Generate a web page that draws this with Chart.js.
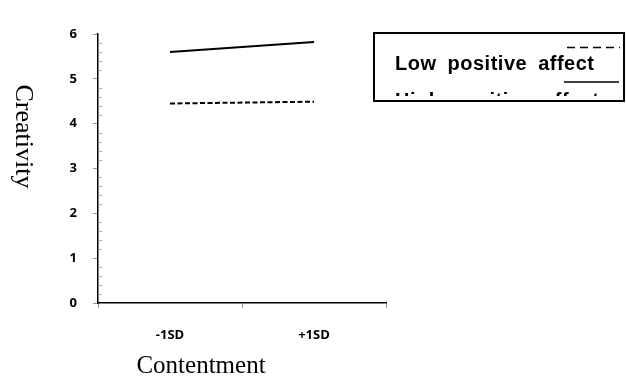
<!DOCTYPE html>
<html>
<head>
<meta charset="utf-8">
<script src="https://cdn.jsdelivr.net/npm/chart.js@4"></script>
<style>
  html, body { margin: 0; padding: 0; background: #fff; }
  #chart { display: block; }
</style>
</head>
<body>
<canvas id="chart" width="626" height="377"></canvas>
<script>
const categories = ["-1SD", "+1SD"];
const lowAffect = [4.45, 4.49];   // dashed
const highAffect = [5.60, 5.82];  // solid
const legendLabels = ["Low positive affect", "High positive affect"];
const xTitle = "Contentment";
const yTitle = "Creativity";

const tickFont = { family: "'Open Sans', 'DejaVu Sans', sans-serif", size: 13, weight: "bold" };

// minor ticks every 0.2 on the inside of the y axis
const minorTicks = {
  id: "minorTicks",
  afterDraw(chart) {
    const ctx = chart.ctx;
    const y = chart.scales.y;
    const left = chart.chartArea.left;
    ctx.save();
    ctx.strokeStyle = "#a8a8a8";
    ctx.lineWidth = 1;
    for (let i = 0; i <= 30; i++) {
      if (i % 5 === 0) continue;
      const py = Math.round(y.getPixelForValue(i / 5)) + 0.5;
      ctx.beginPath();
      ctx.moveTo(left, py);
      ctx.lineTo(left + 4, py);
      ctx.stroke();
    }
    ctx.restore();
  }
};

// axis titles (y title reads top to bottom)
const axisTitles = {
  id: "axisTitles",
  afterDraw(chart) {
    const ctx = chart.ctx;
    ctx.save();
    ctx.fillStyle = "#000";
    ctx.textAlign = "center";
    ctx.textBaseline = "alphabetic";
    ctx.font = "25px 'Liberation Serif', 'DejaVu Serif', serif";
    ctx.fillText(xTitle, 201, 373);
    ctx.font = "26px 'Liberation Serif', 'DejaVu Serif', serif";
    ctx.translate(16, 136.5);
    ctx.rotate(Math.PI / 2);
    ctx.fillText(yTitle, 0, 0);
    ctx.restore();
  }
};

// boxed legend, clipped like the original
const boxLegend = {
  id: "boxLegend",
  afterDraw(chart) {
    const ctx = chart.ctx;
    ctx.save();
    ctx.strokeStyle = "#000";
    ctx.lineWidth = 2;
    ctx.strokeRect(374, 33, 250, 68);
    ctx.beginPath();
    ctx.rect(375, 34, 248, 62);
    ctx.clip();
    ctx.fillStyle = "#000";
    ctx.font = "bold 20px 'Liberation Sans', Arial, sans-serif";
    ctx.letterSpacing = "0.5px";
    ctx.wordSpacing = "5px";
    ctx.textBaseline = "alphabetic";
    ctx.fillText(legendLabels[0], 395, 70);
    ctx.fillText(legendLabels[1], 395, 107);
    ctx.lineWidth = 1.5;
    ctx.setLineDash([8, 5]);
    ctx.beginPath();
    ctx.moveTo(567, 47.5);
    ctx.lineTo(620, 47.5);
    ctx.stroke();
    ctx.setLineDash([]);
    ctx.beginPath();
    ctx.moveTo(564, 82);
    ctx.lineTo(619, 82);
    ctx.stroke();
    ctx.restore();
  }
};

new Chart(document.getElementById("chart"), {
  type: "line",
  data: {
    labels: categories,
    datasets: [
      {
        label: legendLabels[0],
        data: lowAffect,
        borderColor: "#000",
        borderWidth: 2,
        borderDash: [5, 2.5],
        pointRadius: 0,
        tension: 0
      },
      {
        label: legendLabels[1],
        data: highAffect,
        borderColor: "#000",
        borderWidth: 2,
        pointRadius: 0,
        tension: 0
      }
    ]
  },
  options: {
    responsive: false,
    animation: false,
    layout: { padding: { top: 34, right: 240, left: 0, bottom: 0 } },
    plugins: {
      legend: { display: false },
      tooltip: { enabled: false }
    },
    scales: {
      x: {
        type: "category",
        offset: true,
        grid: { offset: true, drawOnChartArea: false, tickLength: 5, color: "#999" },
        border: { color: "#000", width: 1.5 },
        ticks: { font: tickFont, color: "#000", padding: 19 },
        afterFit(scale) { scale.height = 74; }
      },
      y: {
        min: 0,
        max: 6,
        grid: { drawOnChartArea: false, tickLength: 5, color: "#999" },
        border: { color: "#000", width: 1.5 },
        ticks: { stepSize: 1, font: tickFont, color: "#000", padding: 16 },
        afterFit(scale) { scale.width = 98; }
      }
    }
  },
  plugins: [minorTicks, axisTitles, boxLegend]
});
</script>
</body>
</html>
